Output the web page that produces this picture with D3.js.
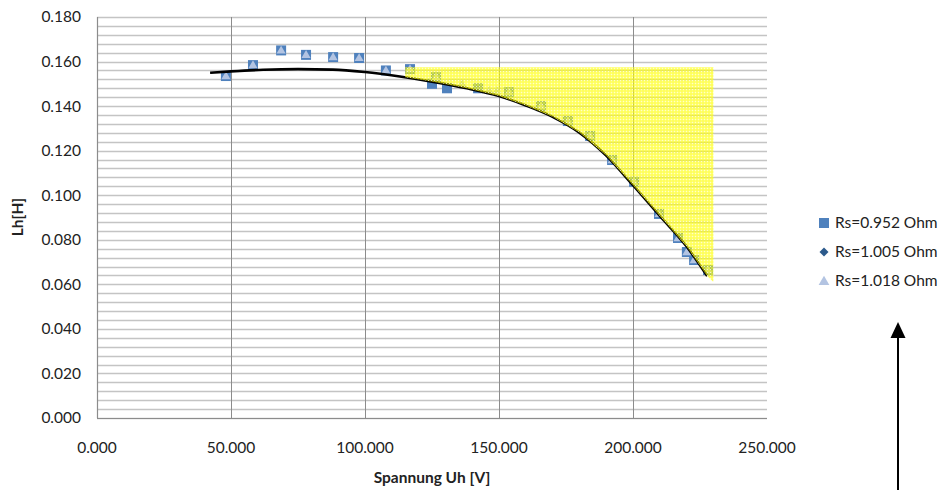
<!DOCTYPE html>
<html><head><meta charset="utf-8">
<script src="https://cdn.jsdelivr.net/npm/d3@7"></script>
<style>body{margin:0;background:#fff;} svg{display:block;font-family:Lato,"Open Sans",sans-serif;}</style>
</head><body>
<svg id="c" width="945" height="490"></svg>
<script>
// ---- data ----
const xTicks = [0, 50, 100, 150, 200, 250];
const yTicks = [0, 0.02, 0.04, 0.06, 0.08, 0.10, 0.12, 0.14, 0.16, 0.18];
const seriesNames = ["Rs=0.952 Ohm", "Rs=1.005 Ohm", "Rs=1.018 Ohm"];
// Rs=0.952 Ohm (squares)
const uh1 = [48.1, 58.2, 68.7, 78.0, 88.1, 97.8, 107.8, 116.8, 126.5, 125.0, 130.6, 142.2, 153.7, 165.7, 175.7, 184.0, 192.2, 200.4, 209.7, 216.8, 220.1, 222.8, 228.0];
const lh1 = [0.1535, 0.1584, 0.1650, 0.1630, 0.1620, 0.1616, 0.1560, 0.1566, 0.1530, 0.1500, 0.1480, 0.1480, 0.1463, 0.1400, 0.1333, 0.1266, 0.1158, 0.1060, 0.0916, 0.0808, 0.0745, 0.0709, 0.0664];
// Rs=1.005 Ohm (diamonds)
const uh2 = [48.1, 58.2, 68.7, 78.0, 88.1, 97.8, 107.8, 116.8, 126.5, 125.0, 130.6, 142.2, 153.7, 165.7, 175.7, 184.0, 192.2, 200.4, 209.7, 216.8, 220.1, 222.8, 228.0];
const lh2 = [0.1535, 0.1584, 0.1650, 0.1630, 0.1620, 0.1616, 0.1560, 0.1566, 0.1530, 0.1500, 0.1480, 0.1480, 0.1463, 0.1400, 0.1333, 0.1266, 0.1158, 0.1060, 0.0916, 0.0808, 0.0745, 0.0709, 0.0664];
// Rs=1.018 Ohm (triangles)
const uh3 = [48.1, 58.2, 68.7, 78.0, 88.1, 97.8, 107.8, 116.8, 126.5, 136.2, 146.3, 149.3, 153.7, 165.7, 175.7, 184.0, 192.2, 200.4, 209.7, 216.8, 220.1, 222.8, 228.0];
const lh3 = [0.1535, 0.1584, 0.1650, 0.1630, 0.1620, 0.1616, 0.1560, 0.1566, 0.1530, 0.1500, 0.1470, 0.1470, 0.1463, 0.1400, 0.1333, 0.1266, 0.1158, 0.1060, 0.0916, 0.0808, 0.0745, 0.0709, 0.0664];
// trend line
const trendX = [42.2, 50, 62, 75, 88, 100, 113, 125, 138, 150, 160, 170, 180, 190, 200, 210, 220, 227.7];
const trendY = [0.1550, 0.1556, 0.1563, 0.1566, 0.1564, 0.1553, 0.1533, 0.1510, 0.1480, 0.1445, 0.1403, 0.1352, 0.1281, 0.1178, 0.1045, 0.0907, 0.0770, 0.0637];
// highlighted region bounds
const fillTop = 0.1575;
const fillLeft = 115;
const fillRight = 230;
const fillBottom = 0.061;

// ---- layout ----
const svg = d3.select("#c");
const x = d3.scaleLinear().domain([0, 250]).range([97, 767]);
const y = d3.scaleLinear().domain([0, 0.18]).range([418, 17]);
const FS = 15.5;

const defs = svg.append("defs");
const pat = defs.append("pattern").attr("id", "yel").attr("patternUnits", "userSpaceOnUse")
  .attr("width", 3).attr("height", 3);
pat.append("rect").attr("width", 3).attr("height", 3).attr("fill", "#ffff00").attr("fill-opacity", 0.55);
pat.append("rect").attr("width", 2).attr("height", 2).attr("fill", "#ffff30").attr("fill-opacity", 0.35);
pat.append("rect").attr("x", 2).attr("y", 2).attr("width", 1).attr("height", 1).attr("fill", "#ffffe0").attr("fill-opacity", 0.8);

// horizontal gridlines (minor every 0.004)
const hLines = d3.range(0, 46).map(i => +(i * 0.004).toFixed(3));
svg.append("g").selectAll("line").data(hLines).join("line")
  .attr("x1", x(0)).attr("x2", x(250))
  .attr("y1", d => Math.round(y(d)) + 0.5).attr("y2", d => Math.round(y(d)) + 0.5)
  .attr("stroke", "#c4c4c4").attr("stroke-width", 1.4);

// vertical gridlines
svg.append("g").selectAll("line").data(xTicks.filter(d => d > 0 && d < 250)).join("line")
  .attr("x1", d => Math.round(x(d)) + 0.5).attr("x2", d => Math.round(x(d)) + 0.5)
  .attr("y1", y(0.18)).attr("y2", y(0))
  .attr("stroke", "#8c8c8c").attr("stroke-width", 1);

// axis lines
svg.append("line").attr("x1", x(0) + 0.5).attr("x2", x(0) + 0.5).attr("y1", y(0.18)).attr("y2", y(0))
  .attr("stroke", "#8c8c8c").attr("stroke-width", 1.2);
svg.append("line").attr("x1", x(0)).attr("x2", x(250)).attr("y1", y(0) + 0.5).attr("y2", y(0) + 0.5)
  .attr("stroke", "#8c8c8c").attr("stroke-width", 1.2);

// tick labels
svg.append("g").selectAll("text").data(yTicks).join("text")
  .attr("x", 81).attr("y", d => y(d)).attr("dy", "0.35em")
  .attr("text-anchor", "end").attr("font-size", FS).attr("fill", "#222")
  .text(d => d3.format(".3f")(d));
svg.append("g").selectAll("text").data(xTicks).join("text")
  .attr("x", d => x(d)).attr("y", 453)
  .attr("text-anchor", "middle").attr("font-size", FS).attr("fill", "#222")
  .text(d => d3.format(".3f")(d));

// axis titles
svg.append("text").attr("x", 432).attr("y", 483).attr("text-anchor", "middle")
  .attr("font-size", FS).attr("font-weight", "bold").attr("fill", "#222").text("Spannung Uh [V]");
svg.append("text").attr("transform", "translate(23,217) rotate(-90)").attr("text-anchor", "middle")
  .attr("font-size", FS).attr("font-weight", "bold").attr("fill", "#222").text("Lh[H]");

// markers
const ms = 10;
const diamond = s => `M0,${-s}L${s},0L0,${s}L${-s},0Z`;
const g2 = svg.append("g");
g2.selectAll("path").data(d3.zip(uh2, lh2)).join("path")
  .attr("d", diamond(4.5))
  .attr("transform", d => `translate(${x(d[0])},${y(d[1])})`)
  .attr("fill", "#2c5a8c");
const g1 = svg.append("g");
g1.selectAll("rect").data(d3.zip(uh1, lh1)).join("rect")
  .attr("x", d => x(d[0]) - ms / 2).attr("y", d => y(d[1]) - ms / 2)
  .attr("width", ms).attr("height", ms).attr("fill", "#4f81bd");
const g3 = svg.append("g");
g3.selectAll("path").data(d3.zip(uh3, lh3)).join("path")
  .attr("d", d3.symbol(d3.symbolTriangle, 36)())
  .attr("transform", d => `translate(${x(d[0])},${y(d[1]) + 0.5})`)
  .attr("fill", "#b3c4e2");

// trend line
const trend = d3.zip(trendX, trendY);
const lineGen = d3.line().x(d => x(d[0])).y(d => y(d[1])).curve(d3.curveMonotoneX);
svg.append("path").datum(trend)
  .attr("d", lineGen)
  .attr("fill", "none").attr("stroke", "#000").attr("stroke-width", 2.6);

// yellow highlighted region
const lower = trend.filter(d => d[0] > fillLeft);
const yAtLeft = trendY[6] + (trendY[7] - trendY[6]) * ((fillLeft - trendX[6]) / (trendX[7] - trendX[6]));
const poly = [[fillRight, fillTop], [fillRight, fillBottom]]
  .concat(lower.slice().reverse())
  .concat([[fillLeft, yAtLeft], [fillLeft, fillTop]]);
svg.append("path").datum(poly)
  .attr("d", d3.line().x(d => x(d[0])).y(d => y(d[1])).curve(d3.curveLinearClosed))
  .attr("fill", "url(#yel)");

// legend
const leg = svg.append("g").attr("font-size", FS).attr("fill", "#222");
const legY = [223, 252, 281];
leg.append("rect").attr("x", 819).attr("y", legY[0] - 5).attr("width", 10).attr("height", 10).attr("fill", "#4f81bd");
leg.append("path").attr("d", diamond(4.5)).attr("transform", `translate(824,${legY[1]})`).attr("fill", "#2c5a8c");
leg.append("path").attr("d", d3.symbol(d3.symbolTriangle, 50)()).attr("transform", `translate(824,${legY[2] + 1})`).attr("fill", "#b3c4e2");
leg.selectAll("text").data(seriesNames).join("text")
  .attr("x", 835).attr("y", (d, i) => legY[i]).attr("dy", "0.35em").text(d => d);

// arrow
svg.append("line").attr("x1", 898).attr("x2", 898).attr("y1", 490).attr("y2", 336)
  .attr("stroke", "#000").attr("stroke-width", 2);
svg.append("path").attr("d", "M898,322 L890.5,338 L905.5,338 Z").attr("fill", "#000");
</script>
</body></html>
